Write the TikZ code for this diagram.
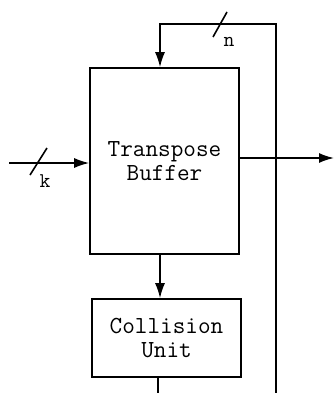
\documentclass[tikz,border=0pt]{standalone}
\usetikzlibrary{arrows.meta}

\begin{document}
\begin{tikzpicture}[
      x=1pt, y=-1pt,
      block/.style={
        rectangle, draw, line width=1.6pt,
        align=center, font=\ttfamily\fontsize{24.5}{24}\selectfont
      },
      bus/.style={
        line width=1.6pt
      },
      arr/.style={
        -{Latex[length=15pt, width=10pt]}, line width=1.6pt
      },
      width/.style={
        font=\ttfamily\fontsize{21}{21}\selectfont
      }
    ]
    \useasboundingbox (0,0) rectangle (334,393);

    % --- Blocks ---
    \node[block, minimum width=149pt, minimum height=186pt] (buf)  at (164.5,161) {Transpose\\Buffer};
    \node[block, minimum width=149pt, minimum height=78pt]  (coll) at (166.5,338) {Collision\\Unit};

    % --- Free ends ---
    \coordinate (mid)    at (160,0);
    \coordinate (in)     at (9,163);
    \coordinate (out)    at (334,158);
    \coordinate (fbtop)  at (276,24);
    \coordinate (fbbot)  at (276,393);
    \coordinate (collout) at (158,393);

    % --- Connectors ---
    \draw[arr] (in) -- (in -| buf.west);
    \draw[arr] (buf.east |- out) -- (out);
    \draw[arr] (fbbot) -- (fbtop) -| (mid |- buf.north);
    \draw[arr] (mid |- buf.south) -- (mid |- coll.north);
    \draw[bus] (collout |- coll.south) -- (collout);

    % --- Bus width marks ---
    \draw[bus] (30,175) -- (47,148);
    \node[width] (k) at (45,181) {k};
    \draw[bus] (213,37) -- (227,12);
    \node[width] (n) at (229,42) {n};

  \end{tikzpicture}
\end{document}
